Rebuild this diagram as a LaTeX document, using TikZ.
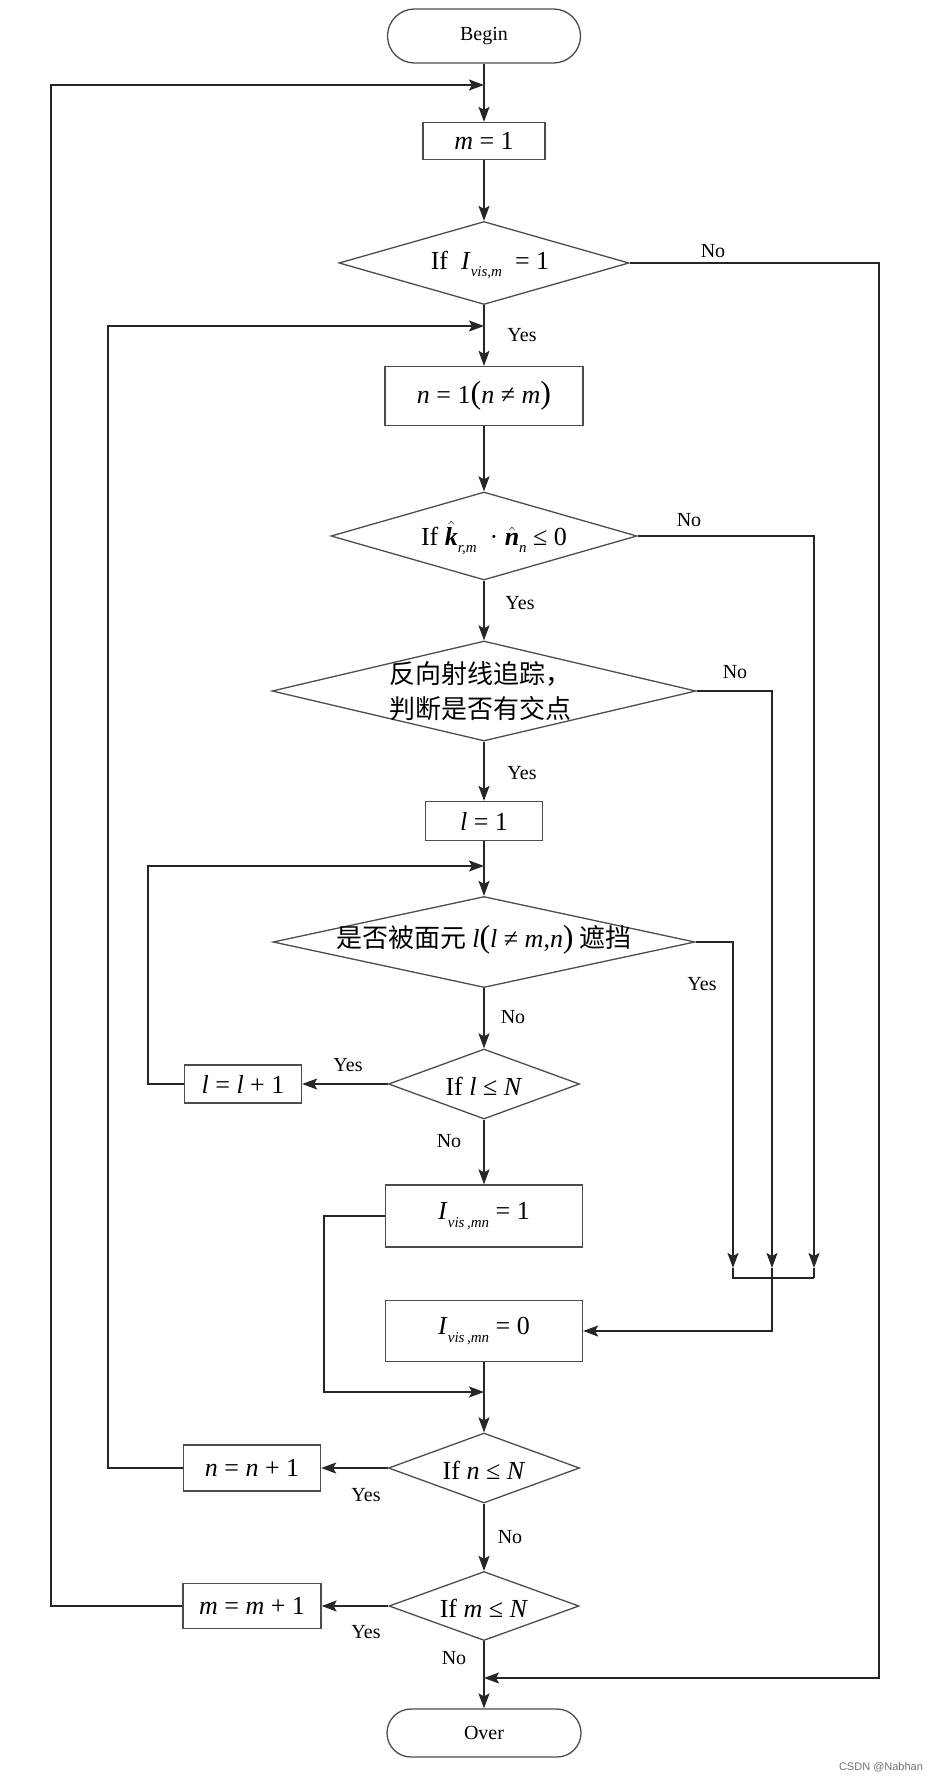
\documentclass[tikz,border=0pt]{standalone}
\usepackage{fontspec}
\setmainfont{Liberation Serif}
\newfontfamily\cjk{Noto Sans CJK SC}
\newfontfamily\wmfont{Liberation Sans}
\usetikzlibrary{shapes.geometric,arrows.meta}
\newcommand{\subt}[1]{\raisebox{-0.6ex}{\fontsize{15}{15}\selectfont\itshape #1}}
\newcommand{\vv}[1]{\textit{#1}}
\newcommand{\bhat}[1]{$\hat{\mbox{\bfseries\itshape #1}}$}
\begin{document}
\begin{tikzpicture}[x=1pt,y=-1pt,
  box/.style={draw=black!70, line width=1.3pt, rectangle, inner sep=0pt, font=\fontsize{26}{28}\selectfont},
  term/.style={draw=black!70, line width=1.3pt, rectangle, inner sep=0pt, font=\fontsize{20}{22}\selectfont},
  dia/.style={draw=black!70, line width=1.3pt, diamond, inner sep=0pt},
  dtext/.style={font=\fontsize{26}{28}\selectfont, inner sep=0pt},
  ctext/.style={font=\cjk\fontsize{26}{35}\selectfont, inner sep=0pt, align=center},
  lbl/.style={font=\fontsize{20}{22}\selectfont, inner sep=0pt},
  arr/.style={-{Stealth[length=15pt,width=11pt,inset=3pt]}, line width=1.6pt, draw=black!85},
  ln/.style={line width=1.6pt, draw=black!85},
]
\useasboundingbox (0,0) rectangle (940,1783);

% nodes
\node[term, minimum width=193pt, minimum height=54pt, rounded corners=27pt] (begin) at (484,36) {Begin};
\node[box, minimum width=122pt, minimum height=37pt] (m1) at (484,141) {\vv{m} = 1};
\node[dia, minimum width=290pt, minimum height=83pt] (d1) at (484,263) {};
\node[dtext] (d1t) at (490,265) {If\ \ \vv{I}\subt{vis,m}\ \ = 1};
\node[box, minimum width=198pt, minimum height=59pt] (n1) at (484,396) {\vv{n} = 1{\fontsize{32}{32}\selectfont(}\vv{n} ≠ \vv{m}{\fontsize{32}{32}\selectfont)}};
\node[dia, minimum width=306pt, minimum height=88pt] (d2) at (484,536) {};
\node[dtext] (d2t) at (494,538) {If\ \bhat{k}\subt{r,m}\ \ ·\ \bhat{n}\subt{n}\ ≤ 0};
\node[dia, minimum width=424pt, minimum height=100pt] (d3) at (484,691) {};
\node[ctext] (d3t) at (480,691) {反向射线追踪，\\判断是否有交点};
\node[box, minimum width=117pt, minimum height=39pt] (l1) at (484,821) {\vv{l} = 1};
\node[dia, minimum width=422pt, minimum height=91pt] (d4) at (484,942) {};
\node[ctext] (d4t) at (484,940) {是否被面元 {\normalfont\fontsize{26}{28}\selectfont\vv{l}{\fontsize{32}{32}\selectfont(}\vv{l} ≠ \vv{m},\vv{n}{\fontsize{32}{32}\selectfont)}} 遮挡};
\node[dia, minimum width=191pt, minimum height=70pt] (d5) at (484,1084) {};
\node[dtext] (d5t) at (484,1086) {If \vv{l} ≤ \vv{N}};
\node[box, minimum width=117pt, minimum height=38pt] (ll) at (243,1084) {\vv{l} = \vv{l} + 1};
\node[box, minimum width=197pt, minimum height=62pt] (I1) at (484,1216) {\vv{I}\subt{vis\,,mn}\ = 1};
\node[box, minimum width=197pt, minimum height=61pt] (I0) at (484,1331) {\vv{I}\subt{vis\,,mn}\ = 0};
\node[dia, minimum width=191pt, minimum height=70pt] (d6) at (484,1468) {};
\node[dtext] (d6t) at (484,1470) {If \vv{n} ≤ \vv{N}};
\node[box, minimum width=137pt, minimum height=46pt] (nn) at (252,1468) {\vv{n} = \vv{n} + 1};
\node[dia, minimum width=190pt, minimum height=69pt] (d7) at (484,1606) {};
\node[dtext] (d7t) at (484,1608) {If \vv{m} ≤ \vv{N}};
\node[box, minimum width=138pt, minimum height=45pt] (mm) at (252,1606) {\vv{m} = \vv{m} + 1};
\node[term, minimum width=194pt, minimum height=48pt, rounded corners=24pt] (over) at (484,1733) {Over};

% junction coordinates
\coordinate (jm) at (484,85);
\coordinate (jn) at (484,326);
\coordinate (jl) at (484,866);
\coordinate (jI) at (484,1392);
\coordinate (jo) at (484,1678);
\coordinate (cm) at (51,85);
\coordinate (cn) at (108,326);
\coordinate (cl) at (148,866);
\coordinate (ci) at (324,1392);
\coordinate (r1) at (879,1678);
\coordinate (a2) at (814,1268);
\coordinate (a3) at (772,1268);
\coordinate (a4) at (733,1268);
\coordinate (b2) at (814,1278);
\coordinate (b3) at (772,1278);
\coordinate (b4) at (733,1278);

% main flow
\draw[arr] (begin) -- (m1);
\draw[arr] (m1) -- (d1);
\draw[arr] (d1) -- (n1);
\draw[arr] (n1) -- (d2);
\draw[arr] (d2) -- (d3);
\draw[arr] (d3) -- (l1);
\draw[arr] (l1) -- (d4);
\draw[arr] (d4) -- (d5);
\draw[arr] (d5) -- (I1);
\draw[arr] (I0) -- (d6);
\draw[arr] (d6) -- (d7);
\draw[arr] (d7) -- (over);

% loops
\draw[arr] (mm.west) -| (cm) -- (jm);
\draw[arr] (nn.west) -| (cn) -- (jn);
\draw[arr] (ll.west) -| (cl) -- (jl);
\draw[arr] (d5.west) -- (ll.east);
\draw[arr] (d6.west) -- (nn.east);
\draw[arr] (d7.west) -- (mm.east);
\draw[arr] (I1.west) -| (ci) -- (jI);

% right side
\draw[arr] (d1.east) -| (r1) -- (jo);
\draw[arr] (d2.east) -| (a2);
\draw[arr] (d3.east) -| (a3);
\draw[arr] (d4.east) -| (a4);
\draw[ln] (a2) -- (b2);
\draw[ln] (a3) -- (b3);
\draw[ln] (a4) -- (b4) -- (b2);
\draw[arr] (b3) |- (I0.east);

% labels
\node[lbl] (t1) at (713,251) {No};
\node[lbl] (t2) at (522,335) {Yes};
\node[lbl] (t3) at (689,520) {No};
\node[lbl] (t4) at (520,603) {Yes};
\node[lbl] (t5) at (735,672) {No};
\node[lbl] (t6) at (522,773) {Yes};
\node[lbl] (t7) at (702,984) {Yes};
\node[lbl] (t8) at (513,1017) {No};
\node[lbl] (t9) at (348,1065) {Yes};
\node[lbl] (t10) at (449,1141) {No};
\node[lbl] (t11) at (366,1495) {Yes};
\node[lbl] (t12) at (510,1537) {No};
\node[lbl] (t13) at (366,1632) {Yes};
\node[lbl] (t14) at (454,1658) {No};
\node[font=\wmfont\fontsize{11}{12}\selectfont, text=black!55, inner sep=0pt] (wm) at (881,1767) {CSDN @Nabhan};
\end{tikzpicture}
\end{document}
